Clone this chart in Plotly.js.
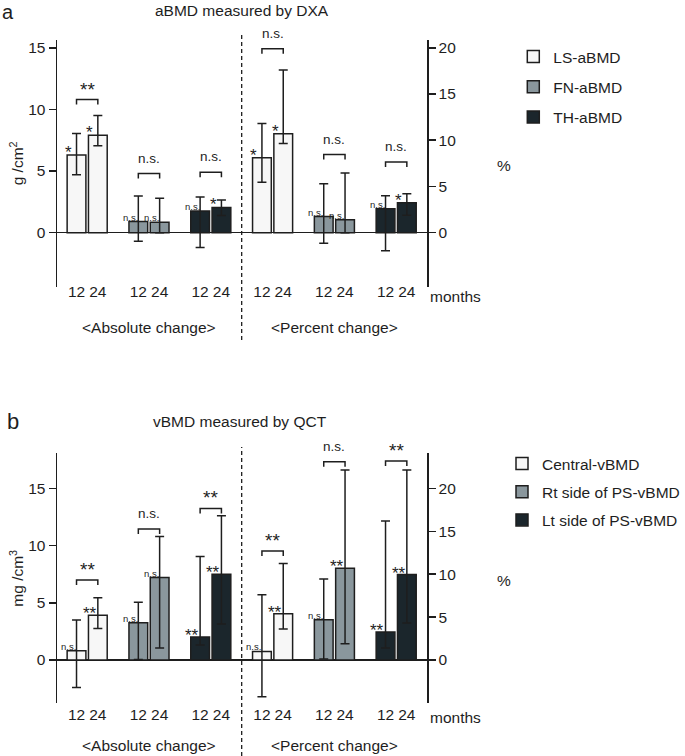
<!DOCTYPE html>
<html><head><meta charset="utf-8">
<script src="https://cdn.plot.ly/plotly-3.0.1.min.js"></script>
<style>html,body{margin:0;padding:0;background:#fff}</style>
</head><body><div id="chart" style="width:685px;height:756px"></div>
<script>
// ---------------- DATA ----------------
const months = ['12', '24'];
const seriesA = ['LS-aBMD', 'FN-aBMD', 'TH-aBMD'];
const seriesB = ['Central-vBMD', 'Rt side of PS-vBMD', 'Lt side of PS-vBMD'];
const blockNames = ['<Absolute change>', '<Percent change>'];

// Panel a: absolute change (g/cm2), rows = series, cols = months
const aAbsMean  = [[6.3, 7.9], [0.9, 0.85], [1.75, 2.05]];
const aAbsUpper = [[8.05, 9.5], [2.97, 2.8], [2.9, 2.65]];
const aAbsLower = [[4.7, 7.05], [-0.7, 0.0], [-1.2, 1.4]];
// Panel a: percent change (%)
const aPctMean  = [[8.1, 10.7], [1.75, 1.4], [2.6, 3.25]];
const aPctUpper = [[11.8, 17.6], [5.3, 6.45], [4.0, 4.2]];
const aPctLower = [[5.45, 9.65], [-1.15, 0.0], [-1.95, 1.9]];
// Panel b: absolute change (mg/cm3)
const bAbsMean  = [[0.8, 3.9], [3.25, 7.2], [2.0, 7.5]];
const bAbsUpper = [[3.5, 5.45], [5.05, 10.8], [9.05, 12.6]];
const bAbsLower = [[-2.4, 2.75], [0.05, 1.05], [1.3, 3.15]];
// Panel b: percent change (%)
const bPctMean  = [[1.0, 5.4], [4.7, 10.7], [3.25, 9.95]];
const bPctUpper = [[7.6, 11.25], [9.45, 22.15], [16.2, 22.15]];
const bPctLower = [[-4.3, 3.6], [0.1, 1.9], [1.4, 4.3]];

// Significance vs baseline (per bar)
const aAbsSig = [['*', '*'], ['n.s.', 'n.s.'], ['n.s.', '*']];
const aPctSig = [['*', '*'], ['n.s.', 'n.s.'], ['n.s.', '*']];
const bAbsSig = [['n.s.', '**'], ['n.s.', 'n.s.'], ['**', '**']];
const bPctSig = [['n.s.', '**'], ['n.s.', '**'], ['**', '**']];
// 12 vs 24 months comparison (brackets)
const aAbsCmp = ['**', 'n.s.', 'n.s.'];
const aPctCmp = ['n.s.', 'n.s.', 'n.s.'];
const bAbsCmp = ['**', 'n.s.', '**'];
const bPctCmp = ['**', 'n.s.', '**'];
const aAbsBracket = [10.8, 4.8, 4.9];
const aPctBracket = [19.9, 8.45, 7.65];
const bAbsBracket = [7.0, 11.45, 13.25];
const bPctBracket = [12.7, 23.1, 23.2];

const leftTicks = [0, 5, 10, 15];
const rightTicks = [0, 5, 10, 15, 20];

// ---------------- STYLE / LAYOUT ----------------
const W = 685, H = 756, ML = 57, MR = 255;
const PW = W - ML - MR;
const FONT = 'Liberation Sans, Arial, Helvetica, sans-serif';
const INK = '#1e1e1e';
const fills = ['#f7f7f7', '#8a979d', '#1b262c'];
const GROUP_STEP = 2.9, BAR_W = 0.88;
const xRange = [-1.416, 15.946];
const domA = [40, 286.7], domB = [453.3, 703.3];
const yA = [-4.38, 15.63], yB = [-3.79, 18.07];
const RATIO = 4 / 3;
const y2A = yA.map(v => v * RATIO), y4B = yB.map(v => v * RATIO);

const X = px => (px - ML) / PW;
const Y = py => 1 - py / H;
const xPos = (block, g, m) => (block * 3 + g) * GROUP_STEP + (m - 0.5);
const pxPerUnit = (dom, rng) => (dom[1] - dom[0]) / (rng[1] - rng[0]);

const traces = [];
const annotations = [];

const sigStyle = {'*': {size: 17, yshift: -9}, '**': {size: 17, yshift: -10}, 'n.s.': {size: 9.5, yshift: -3}};
const cmpStyle = {'**': {size: 19, yshift: -2}, 'n.s.': {size: 13.5, yshift: 6}};

function addBlock(names, mean, upper, lower, sig, cmp, bracket, block, xa, ya, legendId, dom, rng) {
  names.forEach((name, g) => {
    traces.push({
      type: 'bar', name: name,
      x: months.map((_, m) => xPos(block, g, m)),
      y: mean[g], width: BAR_W,
      xaxis: xa, yaxis: ya,
      marker: {color: fills[g], line: {color: INK, width: 1.5}},
      error_y: {type: 'data', symmetric: false,
        array: mean[g].map((v, m) => upper[g][m] - v),
        arrayminus: mean[g].map((v, m) => v - lower[g][m]),
        color: INK, thickness: 1.5, width: 4.5},
      legend: legendId, legendgroup: legendId + g,
      showlegend: block === 0,
      hoverinfo: 'skip'
    });
    months.forEach((_, m) => {
      const s = sigStyle[sig[g][m]];
      annotations.push({
        xref: xa, yref: ya, x: xPos(block, g, m) - BAR_W / 2 + 0.06, y: mean[g][m],
        text: sig[g][m], showarrow: false, xanchor: 'center', yanchor: 'bottom',
        yshift: s.yshift, font: {size: s.size, color: INK, family: FONT}
      });
    });
  });
  // brackets
  const d = 5 / pxPerUnit(dom, rng);
  const bx = [], by = [];
  names.forEach((_, g) => {
    const x0 = xPos(block, g, 0), x1 = xPos(block, g, 1), h = bracket[g];
    bx.push(x0, x0, x1, x1, null);
    by.push(h - d, h, h, h - d, null);
    const s = cmpStyle[cmp[g]];
    annotations.push({
      xref: xa, yref: ya, x: (x0 + x1) / 2, y: h, text: cmp[g], showarrow: false,
      xanchor: 'center', yanchor: 'bottom', yshift: s.yshift,
      font: {size: s.size, color: INK, family: FONT}
    });
  });
  traces.push({type: 'scatter', mode: 'lines', x: bx, y: by, xaxis: xa, yaxis: ya,
    line: {color: INK, width: 1.5}, showlegend: false, hoverinfo: 'skip', cliponaxis: false});
}

addBlock(seriesA, aAbsMean, aAbsUpper, aAbsLower, aAbsSig, aAbsCmp, aAbsBracket, 0, 'x', 'y', 'legend', domA, yA);
addBlock(seriesA, aPctMean, aPctUpper, aPctLower, aPctSig, aPctCmp, aPctBracket, 1, 'x', 'y2', 'legend', domA, y2A);
addBlock(seriesB, bAbsMean, bAbsUpper, bAbsLower, bAbsSig, bAbsCmp, bAbsBracket, 0, 'x2', 'y3', 'legend2', domB, yB);
addBlock(seriesB, bPctMean, bPctUpper, bPctLower, bPctSig, bPctCmp, bPctBracket, 1, 'x2', 'y4', 'legend2', domB, y4B);

// month tick positions
const tickX = [], tickT = [];
[0, 1].forEach(block => [0, 1, 2].forEach(g => months.forEach((mm, m) => {
  tickX.push(xPos(block, g, m)); tickT.push(mm);
})));
const blockCenter = b => ((b * 3) + (b * 3 + 2)) / 2 * GROUP_STEP;
const divider = (2 + 3) / 2 * GROUP_STEP;

const txt = (text, x, y, size, extra) => Object.assign({
  xref: 'paper', yref: 'paper', x: X(x), y: Y(y), text: text, showarrow: false,
  xanchor: 'center', yanchor: 'middle', font: {size: size, color: INK, family: FONT}
}, extra || {});

annotations.push(
  txt('a', 0, 12, 20, {xanchor: 'left'}),
  txt('aBMD measured by DXA', 243, 10, 15.5),
  txt('b', 5, 421, 22, {xanchor: 'left'}),
  txt('vBMD measured by QCT', 241, 421, 15.5),
  txt('%', 508, 165, 15.5),
  txt('%', 508, 580, 15.5),
  txt('months', 431, 296, 15.5, {xanchor: 'left'}),
  txt('months', 431, 717, 15.5, {xanchor: 'left'})
);
blockNames.forEach((bn, b) => {
  annotations.push({xref: 'x', yref: 'paper', x: blockCenter(b), y: Y(327), text: bn,
    showarrow: false, xanchor: 'center', yanchor: 'middle', font: {size: 15.5, color: INK, family: FONT}});
  annotations.push({xref: 'x2', yref: 'paper', x: blockCenter(b), y: Y(745), text: bn,
    showarrow: false, xanchor: 'center', yanchor: 'middle', font: {size: 15.5, color: INK, family: FONT}});
});

const xAxisBase = {
  range: xRange, domain: [0, 1], showgrid: false, zeroline: false, showline: false,
  ticks: '', tickmode: 'array', tickvals: tickX, ticktext: tickT,
  tickfont: {size: 15.5, color: INK, family: FONT}, fixedrange: true
};
const yAxisBase = (rng, dom, ticks, side) => ({
  range: rng, domain: [Y(dom[1]), Y(dom[0])], showgrid: false,
  showline: true, linecolor: INK, linewidth: 1.5, ticks: 'outside', ticklen: 7,
  tickwidth: 1.5, tickcolor: INK, tickmode: 'array', tickvals: ticks,
  tickfont: {size: 15.5, color: INK, family: FONT}, side: side, fixedrange: true
});

const layout = {
  width: W, height: H, margin: {l: ML, r: MR, t: 0, b: 0},
  paper_bgcolor: '#fff', plot_bgcolor: 'rgba(0,0,0,0)',
  font: {family: FONT, color: INK, size: 15.5},
  barmode: 'overlay',
  xaxis: Object.assign({}, xAxisBase, {anchor: 'y', ticklabelstandoff: -6}),
  xaxis2: Object.assign({}, xAxisBase, {anchor: 'y3', ticklabelstandoff: 0}),
  yaxis: Object.assign(yAxisBase(yA, domA, leftTicks, 'left'), {
    anchor: 'x', zeroline: true, zerolinecolor: INK, zerolinewidth: 1.5,
    title: {text: 'g /cm<sup>2</sup>', standoff: 0, font: {size: 15.5, color: INK, family: FONT}}}),
  yaxis2: Object.assign(yAxisBase(y2A, domA, rightTicks, 'right'), {
    anchor: 'x', overlaying: 'y', zeroline: false}),
  yaxis3: Object.assign(yAxisBase(yB, domB, leftTicks, 'left'), {
    anchor: 'x2', zeroline: true, zerolinecolor: INK, zerolinewidth: 1.5,
    title: {text: 'mg /cm<sup>3</sup>', standoff: 0, font: {size: 15.5, color: INK, family: FONT}}}),
  yaxis4: Object.assign(yAxisBase(y4B, domB, rightTicks, 'right'), {
    anchor: 'x2', overlaying: 'y3', zeroline: false}),
  legend: {x: X(517), y: Y(40), xanchor: 'left', yanchor: 'top', traceorder: 'grouped',
    tracegroupgap: 7, bgcolor: 'rgba(0,0,0,0)', font: {size: 15.5, color: INK, family: FONT}},
  legend2: {x: X(506), y: Y(447), xanchor: 'left', yanchor: 'top', traceorder: 'grouped',
    tracegroupgap: 5, bgcolor: 'rgba(0,0,0,0)', font: {size: 15.5, color: INK, family: FONT}},
  shapes: [
    {type: 'line', xref: 'x', yref: 'paper', x0: divider, x1: divider, y0: Y(340), y1: Y(33),
      line: {color: INK, width: 1.3, dash: '4px,3px'}},
    {type: 'line', xref: 'x2', yref: 'paper', x0: divider, x1: divider, y0: Y(756), y1: Y(447),
      line: {color: INK, width: 1.3, dash: '4px,3px'}}
  ],
  annotations: annotations,
  showlegend: true
};

Plotly.newPlot('chart', traces, layout, {displayModeBar: false, staticPlot: true});
</script></body></html>
